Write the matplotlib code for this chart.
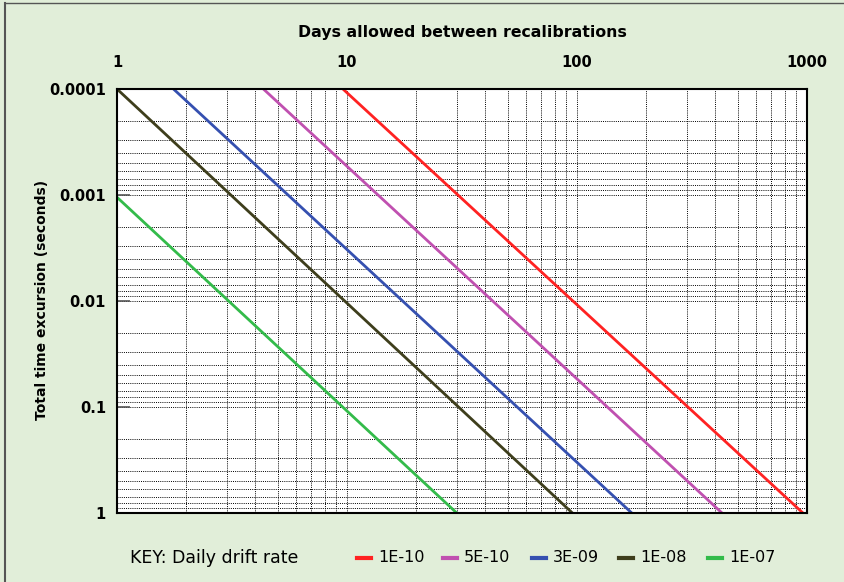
import matplotlib
matplotlib.use('Agg')
from matplotlib import pyplot as plt
from matplotlib.lines import Line2D
import numpy as np

plt.rcParams['font.family'] = ['DejaVu Sans']

# Values (endpoints of each straight log-log line)
rates = ['1E-10', '5E-10', '3E-09', '1E-08', '1E-07']
colors = ['#ff2222', '#c050b0', '#3550b0', '#3e3e1c', '#33bb4a']
days_start = [9.6, 4.33, 1.76, 1.0, 1.0]
days_end = [960, 427, 173, 95.5, 30.0]
excursion_start = [1e-4, 1e-4, 1e-4, 1e-4, 1.05e-3]
excursion_end = [1.0, 1.0, 1.0, 1.0, 1.0]

x_ticks = [1, 10, 100, 1000]
x_labels = ['1', '10', '100', '1000']
y_ticks = [1e-4, 1e-3, 1e-2, 1e-1, 1]
y_labels = ['0.0001', '0.001', '0.01', '0.1', '1']

bg = '#e1eed9'
fig = plt.figure(figsize=(8.44, 5.82), dpi=100, facecolor=bg)
axe = fig.add_axes([117 / 844, 1 - 513 / 582, 690 / 844, 424 / 582])
axe.set_facecolor('white')

for i in range(len(rates)):
    axe.plot([days_start[i], days_end[i]], [excursion_start[i], excursion_end[i]],
             color=colors[i], lw=2.0, solid_capstyle='butt')

axe.set_xscale('log')
axe.set_yscale('log')
axe.set_xlim(1, 1000)
axe.set_ylim(1, 1e-4)

axe.xaxis.tick_top()
axe.xaxis.set_label_position('top')
axe.set_xticks(x_ticks)
axe.set_xticklabels(x_labels, fontsize=10.5, fontweight='bold')
axe.set_yticks(y_ticks)
axe.set_yticklabels(y_labels, fontsize=10.5, fontweight='bold')
axe.minorticks_on()
axe.tick_params(which='minor', length=0)
axe.tick_params(axis='y', which='major', direction='in', length=9, width=1.2,
                color='#555555', pad=8)
axe.tick_params(axis='x', which='major', direction='in', length=0, pad=14)

axe.grid(True, which='both', color='black', lw=0.7, ls=(0, (1, 1.2)))
for s in axe.spines.values():
    s.set_linewidth(1.5)

axe.set_xlabel('Days allowed between recalibrations', fontsize=11.3,
               fontweight='bold', labelpad=13)
fig.text(42 / 844, 1 - 300 / 582, 'Total time excursion (seconds)', rotation=90,
         ha='center', va='center', fontsize=10, fontweight='bold')

# key along the bottom
key_y = 1 - 558 / 582
fig.text(130 / 844, key_y, 'KEY: Daily drift rate', fontsize=12.5, va='center')
key_x = [357, 443, 532, 619, 708]
for i in range(len(rates)):
    x0 = key_x[i] / 844
    fig.add_artist(Line2D([x0, x0 + 14 / 844], [key_y, key_y], color=colors[i],
                          lw=3, transform=fig.transFigure))
    fig.text(x0 + 21 / 844, key_y, rates[i], fontsize=11.5, va='center')

# window edges
fig.add_artist(Line2D([5 / 844, 5 / 844], [0, 1 - 3 / 582], color='#555555',
                      lw=1.5, transform=fig.transFigure))
fig.add_artist(Line2D([5 / 844, 1], [1 - 3 / 582, 1 - 3 / 582], color='#555555',
                      lw=1.0, transform=fig.transFigure))

fig.savefig('out.png', dpi=100, facecolor=bg)
